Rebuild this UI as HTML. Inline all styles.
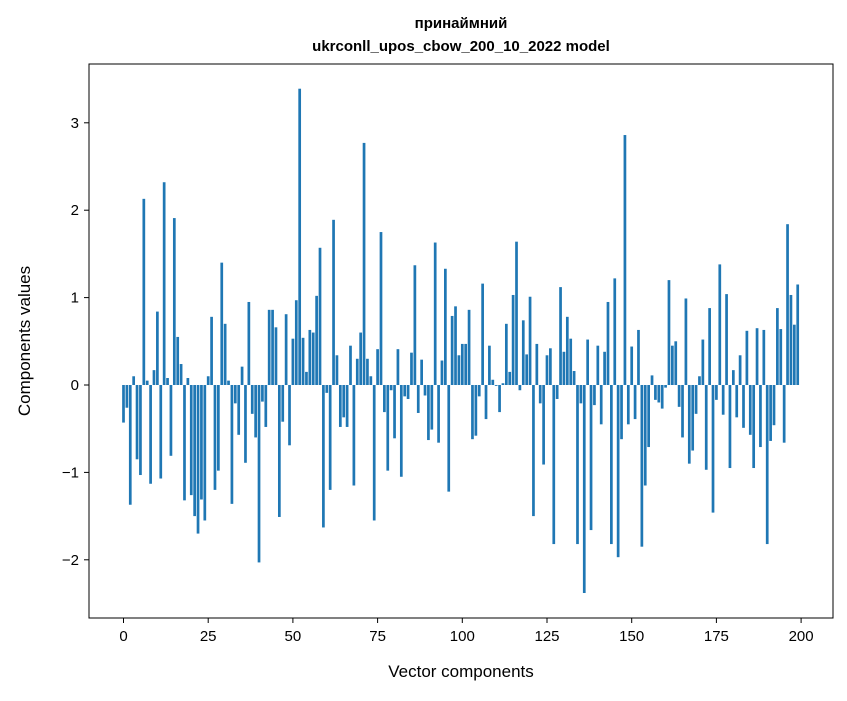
<!DOCTYPE html>
<html><head><meta charset="utf-8"><style>
body{margin:0;background:#fff;}
svg text{font-family:"Liberation Sans","DejaVu Sans",sans-serif;fill:#000;}
</style></head><body>
<svg id="chart" width="847" height="696" xmlns="http://www.w3.org/2000/svg">
<rect width="847" height="696" fill="#fff"/>
<text x="461" y="28" font-size="15" font-weight="bold" text-anchor="middle">принаймний</text>
<text x="461" y="51" font-size="15" font-weight="bold" text-anchor="middle">ukrconll_upos_cbow_200_10_2022 model</text>
<g id="bars"></g>
<g id="xticks"></g>
<g id="yticks"></g>
<rect x="89" y="64" width="744" height="554" fill="none" stroke="#000" stroke-width="1"/>
<text x="461" y="677" font-size="17" text-anchor="middle">Vector components</text>
<text transform="translate(30,341) rotate(-90)" font-size="17" text-anchor="middle">Components values</text>
</svg>
<script>
const values = [-0.43,-0.26,-1.37,0.1,-0.85,-1.03,2.13,0.05,-1.13,0.17,0.84,-1.07,2.32,0.08,-0.81,1.91,0.55,0.24,-1.32,0.08,
-1.26,-1.5,-1.7,-1.31,-1.55,0.1,0.78,-1.2,-0.98,1.4,0.7,0.05,-1.36,-0.21,-0.57,0.21,-0.89,0.95,-0.33,-0.6,
-2.03,-0.19,-0.48,0.86,0.86,0.66,-1.51,-0.42,0.81,-0.69,0.53,0.97,3.39,0.54,0.15,0.63,0.6,1.02,1.57,-1.63,
-0.09,-1.2,1.89,0.34,-0.48,-0.37,-0.48,0.45,-1.15,0.3,0.6,2.77,0.3,0.1,-1.55,0.41,1.75,-0.31,-0.98,-0.06,
-0.61,0.41,-1.05,-0.13,-0.16,0.37,1.37,-0.32,0.29,-0.12,-0.63,-0.51,1.63,-0.66,0.28,1.33,-1.22,0.79,0.9,0.34,
0.47,0.47,0.86,-0.62,-0.58,-0.13,1.16,-0.39,0.45,0.06,-0.01,-0.31,0.02,0.7,0.15,1.03,1.64,-0.06,0.74,0.35,
1.01,-1.5,0.47,-0.21,-0.91,0.34,0.42,-1.82,-0.16,1.12,0.38,0.78,0.53,0.16,-1.82,-0.21,-2.38,0.52,-1.66,-0.23,
0.45,-0.45,0.38,0.95,-1.82,1.22,-1.97,-0.62,2.86,-0.45,0.44,-0.39,0.63,-1.85,-1.15,-0.71,0.11,-0.17,-0.2,-0.27,
-0.03,1.2,0.45,0.5,-0.25,-0.6,0.99,-0.9,-0.75,-0.33,0.1,0.52,-0.97,0.88,-1.46,-0.17,1.38,-0.34,1.04,-0.95,
0.17,-0.37,0.34,-0.49,0.62,-0.57,-0.95,0.65,-0.71,0.63,-1.82,-0.64,-0.46,0.88,0.64,-0.66,1.84,1.03,0.69,1.15];
const xTickLabels = [0,25,50,75,100,125,150,175,200];
const yTickLabels = [-2,-1,0,1,2,3];
const NS="http://www.w3.org/2000/svg";
const xPx = v => 123.5 + v*3.388;
const yPx = v => 385 - v*87.4;
const bars=document.getElementById('bars');
values.forEach((v,i)=>{
  const r=document.createElementNS(NS,'rect');
  
  
  const y0=yPx(0), y1=yPx(v);
  r.setAttribute('x',xPx(i-0.4));
  r.setAttribute('width',0.8*3.388);
  r.setAttribute('y',Math.min(y0,y1));
  r.setAttribute('height',Math.abs(y1-y0));
  r.setAttribute('fill','#1f77b4');
  bars.appendChild(r);
});
const xt=document.getElementById('xticks');
xTickLabels.forEach(t=>{
  const l=document.createElementNS(NS,'line');
  
  
  l.setAttribute('x1',xPx(t));l.setAttribute('x2',xPx(t));
  l.setAttribute('y1',618);l.setAttribute('y2',623);l.setAttribute('stroke','#000');
  xt.appendChild(l);
  const tx=document.createElementNS(NS,'text');
  
  
  tx.setAttribute('x',xPx(t));tx.setAttribute('y',641);
  tx.setAttribute('font-size','15');tx.setAttribute('text-anchor','middle');
  tx.textContent=t;
  xt.appendChild(tx);
});
const yt=document.getElementById('yticks');
yTickLabels.forEach(t=>{
  const l=document.createElementNS(NS,'line');
  
  
  l.setAttribute('x1',84);l.setAttribute('x2',89);
  l.setAttribute('y1',yPx(t));l.setAttribute('y2',yPx(t));l.setAttribute('stroke','#000');
  yt.appendChild(l);
  const tx=document.createElementNS(NS,'text');
  
  
  tx.setAttribute('x',79);tx.setAttribute('y',yPx(t)+5);
  tx.setAttribute('font-size','15');tx.setAttribute('text-anchor','end');
  tx.textContent=t<0?'\u2212'+Math.abs(t):t;
  yt.appendChild(tx);
});
</script>
</body></html>
